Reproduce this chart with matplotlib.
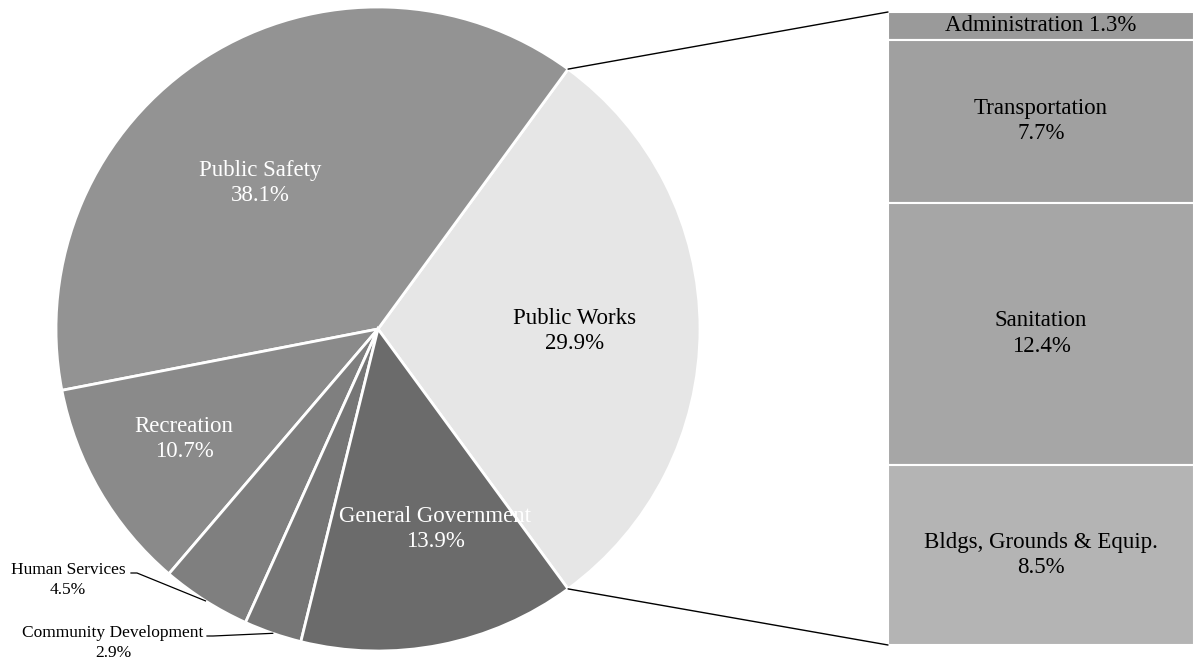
import matplotlib.pyplot as plt
import numpy as np
from matplotlib.patches import ConnectionPatch

plt.rcParams['font.family'] = ['Liberation Serif', 'DejaVu Serif']

# pie data (starting with the exploded-to-bar slice, counter clockwise)
pie_labels = ['Public Works', 'Public Safety', 'Recreation', 'Human Services',
              'Community Development', 'General Government']
pie_vals = [29.9, 38.1, 10.7, 4.5, 2.9, 13.9]
pie_cols = ['#e6e6e6', '#939393', '#8a8a8a', '#7f7f7f', '#767676', '#6b6b6b']

# breakdown of Public Works (top to bottom)
bar_labels = ['Administration', 'Transportation', 'Sanitation', 'Bldgs, Grounds & Equip.']
bar_vals = [1.3, 7.7, 12.4, 8.5]
bar_cols = ['#9a9a9a', '#a0a0a0', '#a6a6a6', '#b4b4b4']

W, H = 1194, 659
fig = plt.figure(figsize=(W/100, H/100), dpi=100)

# pie axes in pixel units
ax1 = fig.add_axes([0, 0, 1, 1])

cx, cy, R = 378, 330, 322
start = -pie_vals[0] / sum(pie_vals) * 360 / 2
wedges, _ = ax1.pie(pie_vals, colors=pie_cols, startangle=start, counterclock=True,
                    center=(cx, cy), radius=R, frame=True,
                    wedgeprops=dict(edgecolor='white', linewidth=2))
ax1.set_xlim(0, W)
ax1.set_ylim(0, H)
ax1.axis('off')

fs = 16.5
# inner labels
inner = {0: (575, 328, 'black'), 1: (260, 476, 'white'), 2: (184, 220, 'white'), 5: (435, 130, 'white')}
for i, (x, y, c) in inner.items():
    ax1.text(x, y, f'{pie_labels[i]}\n{pie_vals[i]}%', ha='center', va='center',
             color=c, fontsize=fs, linespacing=1.3)

# outside labels with leader lines
def edge(i):
    a0 = start + sum(pie_vals[:i]) / sum(pie_vals) * 360
    a = np.deg2rad(a0 + pie_vals[i] / sum(pie_vals) * 180)
    return cx + R * np.cos(a), cy + R * np.sin(a)

outer = {3: (68, 79, (131, 86)), 4: (113, 16, (207, 23))}
for i, (x, y, (lx, ly)) in outer.items():
    ax1.text(x, y, f'{pie_labels[i]}\n{pie_vals[i]}%', ha='center', va='center',
             fontsize=12.5, linespacing=1.3)
    ex, ey = edge(i)
    ax1.plot([lx, lx + 6, ex], [ly, ly, ey], color='black', lw=0.9)

# bar axes
ax2 = fig.add_axes([888/W, 14/H, 306/W, 633/H])
ax2.set_xlim(0, 1)
ax2.set_ylim(0, sum(bar_vals))
ax2.axis('off')
top = sum(bar_vals)
for lab, v, c in zip(bar_labels, bar_vals, bar_cols):
    ax2.bar(0.5, v, bottom=top - v, width=1, color=c, edgecolor='white', linewidth=1.5)
    if v < 2:
        ax2.text(0.5, top - v/2, f'{lab} {v}%', ha='center', va='center', fontsize=fs)
    else:
        ax2.text(0.5, top - v/2, f'{lab}\n{v}%', ha='center', va='center', fontsize=fs,
                 linespacing=1.3)
    top -= v

# connecting lines
theta = np.deg2rad(-start)
for sgn, yb in [(1, sum(bar_vals)), (-1, 0)]:
    xa, ya = cx + R * np.cos(theta), cy + sgn * R * np.sin(theta)
    con = ConnectionPatch(xyA=(0, yb), coordsA=ax2.transData, xyB=(xa, ya),
                          coordsB=ax1.transData, color='black', lw=1)
    fig.add_artist(con)

fig.savefig('out.png', dpi=100)
